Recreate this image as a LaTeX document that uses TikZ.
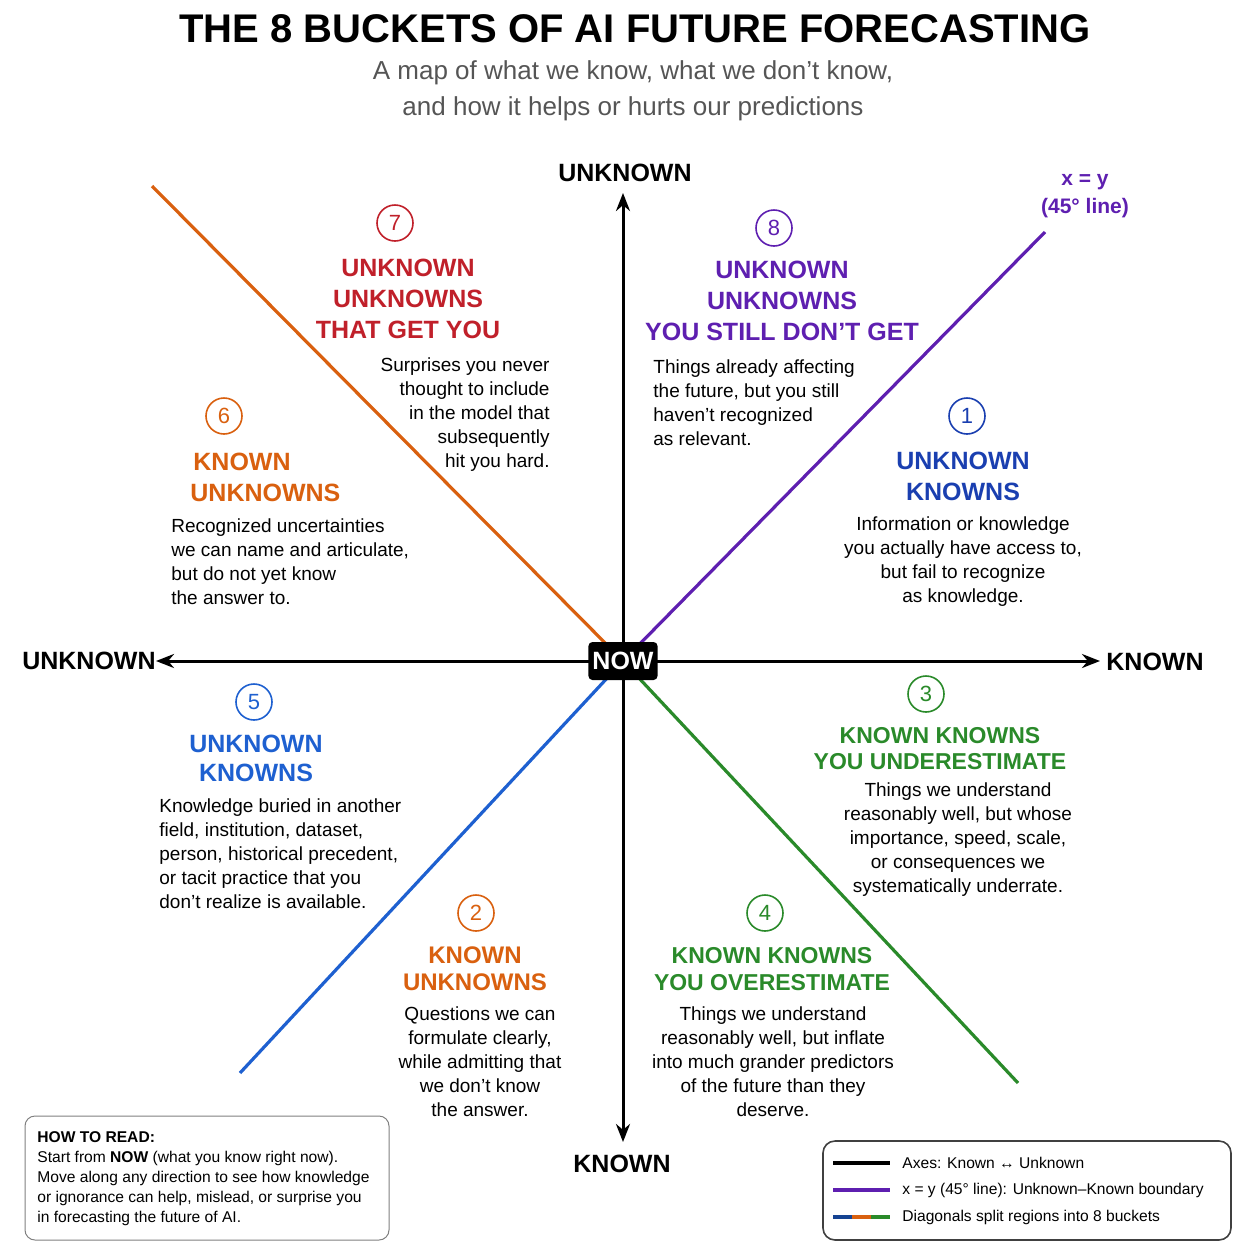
\documentclass[tikz,border=0pt]{standalone}
\usepackage{fontspec}
\setmainfont{Liberation Sans}
\usetikzlibrary{arrows.meta}
\definecolor{cred}{HTML}{C0202A}
\definecolor{corange}{HTML}{D9600F}
\definecolor{cpurple}{HTML}{5E1FB0}
\definecolor{cblue}{HTML}{1A3FB0}
\definecolor{cblue2}{HTML}{1E60D0}
\definecolor{cgreen}{HTML}{2A8A2A}
\definecolor{cgray}{HTML}{555555}
\begin{document}
\begin{tikzpicture}[x=0.5pt,y=-0.5pt,
  body/.style={font=\fontsize{9.5}{12}\selectfont,inner sep=0pt},
  head/.style={font=\fontsize{12.5}{15.5}\selectfont\bfseries,inner sep=0pt,align=center},
  num/.style={circle,draw=#1,text=#1,line width=0.8pt,minimum size=18pt,inner sep=0pt,font=\fontsize{11}{11}\selectfont},
  diag/.style={line width=1.6pt,#1},
  axis/.style={line width=1.5pt,-{Stealth[length=9pt,width=7pt]}},
  axlab/.style={font=\fontsize{12.5}{14}\selectfont\bfseries,inner sep=0pt},
  small/.style={font=\fontsize{7.8}{10}\selectfont,inner sep=0pt,align=left}]
\useasboundingbox (0,0) rectangle (1254,1254);
% title
\node[font=\fontsize{20}{22}\selectfont\bfseries,inner sep=0pt] (title) at (635,29) {THE 8 BUCKETS OF AI FUTURE FORECASTING};
\node[font=\fontsize{13}{18}\selectfont,text=cgray,align=center,inner sep=0pt] (sub) at (633,91) {A map of what we know, what we don’t know,\\and how it helps or hurts our predictions};
% center
\coordinate (c) at (623,661);
\coordinate (a7) at (152,186);
\coordinate (a8) at (1045,232);
\coordinate (a5) at (240,1073);
\coordinate (a4) at (1018,1083);
\draw[diag=corange] (c) -- (a7);
\draw[diag=cpurple] (c) -- (a8);
\draw[diag=cblue2] (c) -- (a5);
\draw[diag=cgreen] (c) -- (a4);
\coordinate (top) at (623,193);
\coordinate (bot) at (623,1142);
\coordinate (lft) at (156,661);
\coordinate (rgt) at (1100,661);
\draw[axis] (c) -- (top);
\draw[axis] (c) -- (bot);
\draw[axis] (c) -- (lft);
\draw[axis] (c) -- (rgt);
\node[fill=black,text=white,rounded corners=2pt,font=\fontsize{12.5}{14}\selectfont\bfseries,minimum width=33pt,minimum height=19pt,inner sep=2pt] (now) at (c) {NOW};
\node[axlab] (lt) at (625,173) {UNKNOWN};
\node[axlab] (lb) at (622,1164) {KNOWN};
\node[axlab] (ll) at (89,661) {UNKNOWN};
\node[axlab] (lr) at (1155,662) {KNOWN};
\node[font=\fontsize{10.5}{14}\selectfont\bfseries,text=cpurple,align=center,inner sep=0pt] (xy) at (1085,196) {x = y\\(45° line)};
% 7
\node[num=cred] (n7) at (395,223) {7};
\node[head,text=cred] (h7) at (408,299) {UNKNOWN\\UNKNOWNS\\THAT GET YOU};
\node[body,align=right,anchor=east] (b7) at (550,414.5) {Surprises you never\\thought to include\\in the model that\\subsequently\\hit you hard.};
% 8
\node[num=cpurple] (n8) at (774,228) {8};
\node[head,text=cpurple] (h8) at (782,300.5) {UNKNOWN\\UNKNOWNS\\YOU STILL DON’T GET};
\node[body,align=left,anchor=west] (b8) at (653,402.5) {Things already affecting\\the future, but you still\\haven’t recognized\\as relevant.};
% 1
\node[num=cblue] (n1) at (967,416) {1};
\node[head,text=cblue] (h1) at (963,476.5) {UNKNOWN\\KNOWNS};
\node[body,align=center] (b1) at (963,562) {Information or knowledge\\you actually have access to,\\but fail to recognize\\as knowledge.};
% 6
\node[num=corange] (n6) at (224,416) {6};
\node[head,text=corange,anchor=west] (h6a) at (193,462) {KNOWN};
\node[head,text=corange,anchor=west] (h6b) at (190,493) {UNKNOWNS};
\node[body,align=left,anchor=west] (b6) at (171,562) {Recognized uncertainties\\we can name and articulate,\\but do not yet know\\the answer to.};
% 5
\node[num=cblue2] (n5) at (254,702) {5};
\node[head,text=cblue2,font=\fontsize{12.5}{14.5}\selectfont\bfseries] (h5) at (256,758.5) {UNKNOWN\\KNOWNS};
\node[body,align=left,anchor=west] (b5) at (159,853.5) {Knowledge buried in another\\field, institution, dataset,\\person, historical precedent,\\or tacit practice that you\\don’t realize is available.};
% 3
\node[num=cgreen] (n3) at (926,694) {3};
\node[head,text=cgreen,font=\fontsize{11.5}{13}\selectfont\bfseries] (h3) at (940,749) {KNOWN KNOWNS\\YOU UNDERESTIMATE};
\node[body,align=center] (b3) at (958,840) {Things we understand\\reasonably well, but whose\\importance, speed, scale,\\or consequences we\\systematically underrate.};
% 2
\node[num=corange] (n2) at (476,913) {2};
\node[head,text=corange,font=\fontsize{12}{13.5}\selectfont\bfseries] (h2) at (475,968.5) {KNOWN\\UNKNOWNS};
\node[body,align=center] (b2) at (480,1061.5) {Questions we can\\formulate clearly,\\while admitting that\\we don’t know\\the answer.};
% 4
\node[num=cgreen] (n4) at (765,913) {4};
\node[head,text=cgreen,font=\fontsize{11.5}{13.5}\selectfont\bfseries] (h4) at (772,969.5) {KNOWN KNOWNS\\YOU OVERESTIMATE};
\node[body,align=center] (b4) at (773,1061.5) {Things we understand\\reasonably well, but inflate\\into much grander predictors\\of the future than they\\deserve.};
% how to read
\draw[gray,rounded corners=5pt,line width=0.5pt] (25,1116) rectangle (389,1240);
\node[small,anchor=north west] (how) at (37,1131) {\textbf{HOW TO READ:}\\Start from \textbf{NOW} (what you know right now).\\Move along any direction to see how knowledge\\or ignorance can help, mislead, or surprise you\\in forecasting the future of AI.};
% legend
\draw[black!75,rounded corners=6pt,line width=0.8pt] (823,1141) rectangle (1231,1240);
\coordinate (l1a) at (833,1163); \coordinate (l1b) at (890,1163);
\coordinate (l2a) at (833,1190); \coordinate (l2b) at (890,1190);
\coordinate (l3a) at (833,1217); \coordinate (l3m) at (852,1217); \coordinate (l3n) at (871,1217); \coordinate (l3b) at (890,1217);
\draw[line width=1.6pt] (l1a) -- (l1b);
\draw[line width=1.6pt,cpurple] (l2a) -- (l2b);
\draw[line width=1.6pt,cblue2!70!black] (l3a) -- (l3m);
\draw[line width=1.6pt,corange] (l3m) -- (l3n);
\draw[line width=1.6pt,cgreen] (l3n) -- (l3b);
\node[small,anchor=west] (t1) at (902,1163) {Axes: Known ↔ Unknown};
\node[small,anchor=west] (t2) at (902,1190) {x = y (45° line): Unknown–Known boundary};
\node[small,anchor=west] (t3) at (902,1217) {Diagonals split regions into 8 buckets};
\end{tikzpicture}
\end{document}
